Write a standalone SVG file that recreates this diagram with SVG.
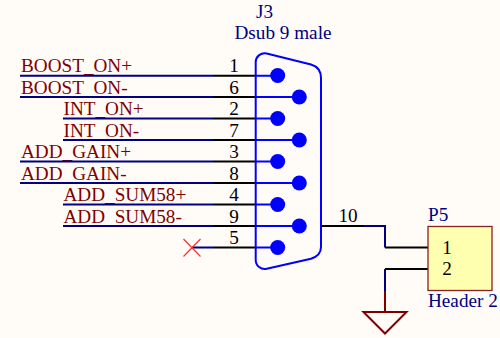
<svg xmlns="http://www.w3.org/2000/svg" width="500" height="338" viewBox="0 0 500 338">
<style>
text{font-family:"Liberation Serif","Times New Roman",serif;font-size:19.2px}
.n{fill:#800000}.p{fill:#000;text-anchor:middle}.d{fill:#000080}.b{fill:none;stroke:#000;stroke-width:2}.w{fill:none;stroke:#000080;stroke-width:2}.c{fill:none;stroke:#0000ff;stroke-width:2}.u{fill:#0000ff}
</style>
<rect width="500" height="338" fill="#fffcf8"/>
<g id="nets">
<text class="n" x="21" y="72">BOOST<tspan dy="1.200">_</tspan><tspan dy="-1.200">ON+</tspan></text>
<text class="n" x="21" y="93.500">BOOST<tspan dy="1.200">_</tspan><tspan dy="-1.200">ON-</tspan></text>
<text class="n" x="63.500" y="115">INT<tspan dy="1.200">_</tspan><tspan dy="-1.200">ON+</tspan></text>
<text class="n" x="63.500" y="136.500">INT<tspan dy="1.200">_</tspan><tspan dy="-1.200">ON-</tspan></text>
<text class="n" x="21" y="158">ADD<tspan dy="1.200">_</tspan><tspan dy="-1.200">GAIN+</tspan></text>
<text class="n" x="21" y="179.500">ADD<tspan dy="1.200">_</tspan><tspan dy="-1.200">GAIN-</tspan></text>
<text class="n" x="63.500" y="201">ADD<tspan dy="1.200">_</tspan><tspan dy="-1.200">SUM58+</tspan></text>
<text class="n" x="63.500" y="222.500">ADD<tspan dy="1.200">_</tspan><tspan dy="-1.200">SUM58-</tspan></text>
</g>
<g id="connectors">
<path class="b" d="M213 75.700H256M213 97H256M213 118.500H256M213 140H256M213 161.500H256M213 183H256M213 204.500H256M213 226H256M213 247.500H256"/>
<path class="w" d="M20 75.700H213M20 97H213M63 118.500H213M63 140H213M20 161.500H213M20 183H213M63 204.500H213M63 226H213M192 247.500H213"/>
<path class="b" d="M322 226H364M385 247.500H428M385 269H428"/>
<path class="w" d="M364 226H385V247.500M385 269V291"/>
<path d="M385 291V312" fill="none" stroke="#800000" stroke-width="2"/>
<path d="M183.500 239L200.500 256.500M200.500 239L183.500 256.500" fill="none" stroke="#ff3030" stroke-width="1.200"/>
</g>
<g id="J3">
<path class="c" d="M255.700 204.500V62A9 9 0 0 1 266.700 53.500L311 64.500Q321 67.500 321 78V247Q321 255.500 311 258.700L266.700 268.800A9 9 0 0 1 255.700 260Z"/>
<path class="c" d="M256 75.700H278M256 97H299M256 118.500H278M256 140H299M256 161.500H278M256 183H299M256 204.500H278M256 226H299M256 247.500H278"/>
<circle class="u" cx="277.700" cy="75.500" r="7.500"/><circle class="u" cx="299.300" cy="97" r="7.500"/>
<circle class="u" cx="277.700" cy="118.500" r="7.500"/><circle class="u" cx="299.300" cy="140" r="7.500"/>
<circle class="u" cx="277.700" cy="161.500" r="7.500"/><circle class="u" cx="299.300" cy="183" r="7.500"/>
<circle class="u" cx="277.700" cy="204.500" r="7.500"/><circle class="u" cx="299.300" cy="226" r="7.500"/>
<circle class="u" cx="277.700" cy="247.500" r="7.500"/>
<text class="d" x="264.500" y="18" text-anchor="middle">J3</text>
<text class="d" x="283" y="38.500" text-anchor="middle">Dsub 9 male</text>
<text class="p" x="234" y="72">1</text><text class="p" x="234" y="93.500">6</text>
<text class="p" x="234" y="115">2</text><text class="p" x="234" y="136.500">7</text>
<text class="p" x="234" y="158">3</text><text class="p" x="234" y="179.500">8</text>
<text class="p" x="234" y="201">4</text><text class="p" x="234" y="222.500">9</text>
<text class="p" x="234" y="244">5</text>
<text class="p" x="348" y="222">10</text>
</g>
<g id="P5">
<rect x="428" y="226.500" width="64" height="64" fill="#ffffb0" stroke="#8b2020" stroke-width="1.300"/>
<text class="d" x="428" y="221">P5</text>
<text class="d" x="428" y="307">Header 2</text>
<text class="p" x="447" y="254">1</text>
<text class="p" x="447" y="275">2</text>
</g>
<g id="GND">
<path d="M363.500 312H406.500L385 333.500Z" fill="none" stroke="#800000" stroke-width="2"/>
</g>
</svg>
